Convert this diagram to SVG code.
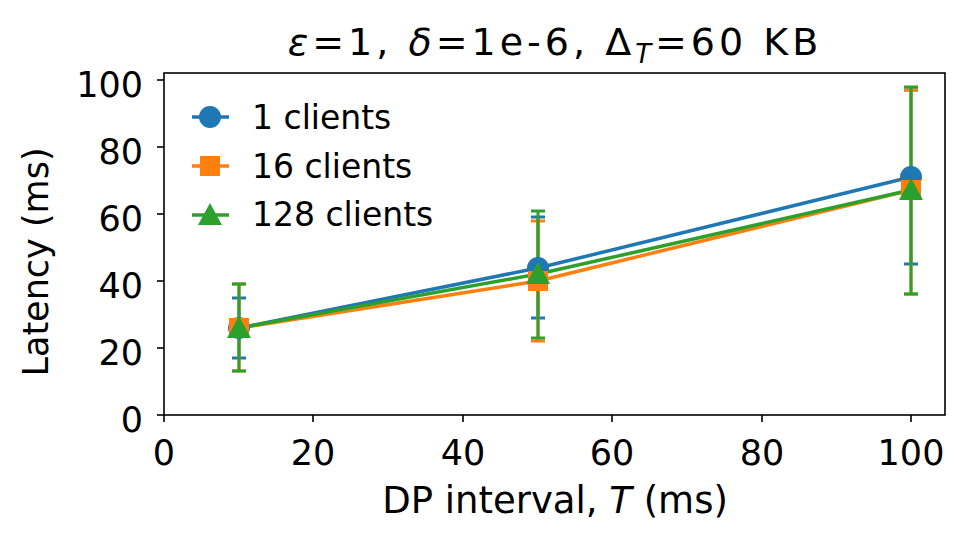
<svg xmlns="http://www.w3.org/2000/svg" width="969" height="542" viewBox="0 0 969 542">
<style>
text{font-family:"DejaVu Sans",sans-serif;fill:#000}
.t{font-size:35px}
.l{font-size:33px}
.ax{stroke:#000;stroke-width:1.6;fill:none}
.b{stroke:#1f77b4}.o{stroke:#ff7f0e}.g{stroke:#2ca02c}
.ln{stroke-width:3.5;fill:none}
.eb{stroke-width:3;fill:none}
</style>
<rect width="969" height="542" fill="#fff"/>
<g id="axes">
<rect class="ax" x="164" y="73" width="781" height="342"/>
<g stroke="#000" stroke-width="1.6">
<line x1="164" y1="415" x2="164" y2="422"/><line x1="313" y1="415" x2="313" y2="422"/><line x1="463" y1="415" x2="463" y2="422"/><line x1="612" y1="415" x2="612" y2="422"/><line x1="762" y1="415" x2="762" y2="422"/><line x1="911" y1="415" x2="911" y2="422"/>
<line x1="157" y1="415" x2="164" y2="415"/><line x1="157" y1="348" x2="164" y2="348"/><line x1="157" y1="281" x2="164" y2="281"/><line x1="157" y1="214" x2="164" y2="214"/><line x1="157" y1="147" x2="164" y2="147"/><line x1="157" y1="80" x2="164" y2="80"/>
</g>
<g class="t" text-anchor="middle">
<text x="164" y="465">0</text><text x="313" y="465">20</text><text x="463" y="465">40</text><text x="612" y="465">60</text><text x="762" y="465">80</text><text x="911" y="465">100</text>
</g>
<g class="t" text-anchor="end">
<text x="143" y="432">0</text><text x="143" y="365">20</text><text x="143" y="298">40</text><text x="143" y="231">60</text><text x="143" y="164">80</text><text x="143" y="97">100</text>
</g>
<text x="555" y="513" text-anchor="middle" style="font-size:37px">DP interval, <tspan font-style="italic">T</tspan> (ms)</text>
<text class="t" transform="translate(48,262) rotate(-90)" text-anchor="middle">Latency (ms)</text>
<text x="555" y="55" text-anchor="middle" style="font-size:38px;letter-spacing:4px"><tspan font-style="italic">ε</tspan>=1, <tspan font-style="italic">δ</tspan>=1e-6, Δ<tspan font-size="26" dy="8" font-style="italic">T</tspan><tspan dy="-8">=60 KB</tspan></text>
</g>
<g id="connectors">
<g class="b eb">
<path d="M239 358V298M232 358h14M232 298h14M538 318V217M531 318h14M531 217h14M911 264V90M904 264h14M904 90h14"/>
</g>
<g class="o eb">
<path d="M239 371V284M232 371h14M232 284h14M538 341V221M531 341h14M531 221h14M911 294V90M904 294h14M904 90h14"/>
</g>
<g class="g eb">
<path d="M239 371V284M232 371h14M232 284h14M538 338V211M531 338h14M531 211h14M911 294V87M904 294h14M904 87h14"/>
</g>
<polyline class="b ln" points="239,328 538,268 911,177"/>
<polyline class="o ln" points="239,328 538,281 911,190"/>
<polyline class="g ln" points="239,328 538,274 911,190"/>
</g>
<g id="markers">
<circle cx="239" cy="328" r="11" fill="#1f77b4"/><circle cx="538" cy="268" r="11" fill="#1f77b4"/><circle cx="911" cy="177" r="11" fill="#1f77b4"/>
<rect x="229" y="318" width="20" height="20" fill="#ff7f0e"/><rect x="528" y="271" width="20" height="20" fill="#ff7f0e"/><rect x="901" y="180" width="20" height="20" fill="#ff7f0e"/>
<polygon points="239,316 251,338 227,338" fill="#2ca02c"/><polygon points="538,262 550,284 526,284" fill="#2ca02c"/><polygon points="911,178 923,200 899,200" fill="#2ca02c"/>
</g>
<g id="legend">
<line class="b ln" x1="192" y1="117" x2="229" y2="117"/><circle cx="210" cy="117" r="11" fill="#1f77b4"/>
<text class="l" x="252" y="129">1 clients</text>
<line class="o ln" x1="192" y1="166" x2="229" y2="166"/><rect x="200" y="156" width="20" height="20" fill="#ff7f0e"/>
<text class="l" x="252" y="178">16 clients</text>
<line class="g ln" x1="192" y1="215" x2="229" y2="215"/><polygon points="210,203 222,225 198,225" fill="#2ca02c"/>
<text class="l" x="252" y="226">128 clients</text>
</g>
</svg>
